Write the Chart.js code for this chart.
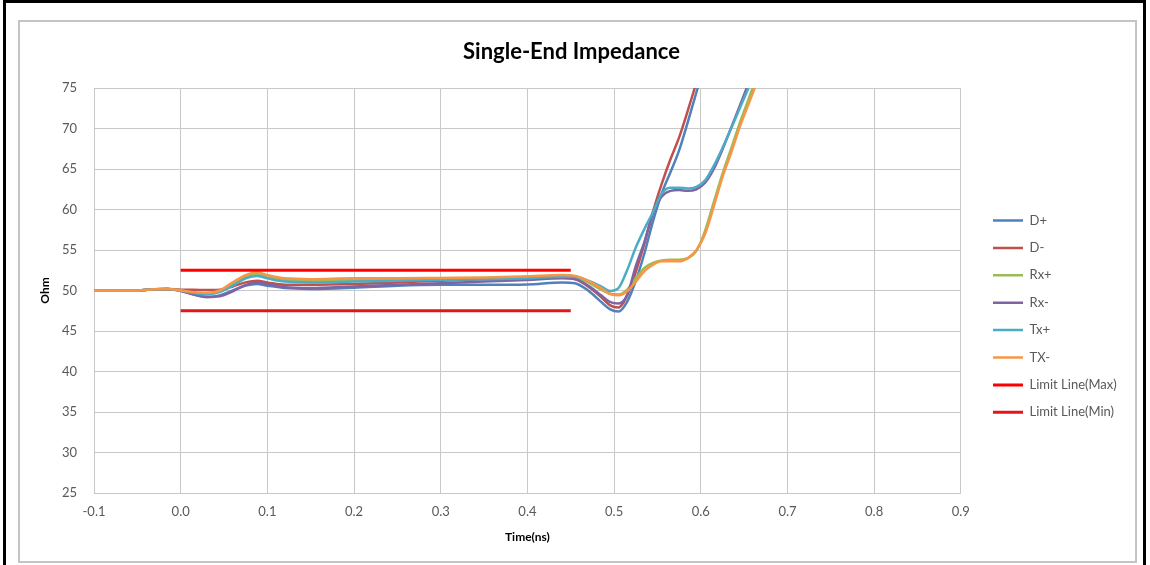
<!DOCTYPE html>
<html>
<head>
<meta charset="utf-8">
<script src="https://cdn.jsdelivr.net/npm/chart.js@4"></script>
<style>
  html, body { margin: 0; padding: 0; background: #fff; }
  body { width: 1150px; height: 565px; position: relative; overflow: hidden; }
  #outer { position: absolute; left: 3px; top: 0; width: 1143px; height: 600px;
           border: 3px solid #000; border-bottom: none; box-sizing: border-box; }
  #frame { position: absolute; left: 18px; top: 20px; width: 1119px; height: 543px;
           border: 2px solid #c4c4c4; box-sizing: border-box; }
  #wrap { position: absolute; left: 20px; top: 22px; width: 1115px; height: 539px; }
</style>
</head>
<body>
<div id="outer"></div>
<div id="frame"></div>
<div id="wrap"><canvas id="chart"></canvas></div>
<script>
'use strict';

// time axis (ns) shared by all traces
const times = [-0.1, -0.05, -0.03, -0.015, 0, 0.015, 0.03, 0.045, 0.06, 0.075,
  0.088, 0.1, 0.12, 0.15, 0.2, 0.25, 0.3, 0.35, 0.4, 0.44,
  0.455, 0.47, 0.485, 0.495, 0.505, 0.515, 0.525, 0.535, 0.545, 0.555,
  0.565, 0.575, 0.585, 0.595, 0.605, 0.615, 0.625, 0.635, 0.645, 0.655, 0.665, 0.68];

const dPlus = [50.0, 50.0, 50.15, 50.2, 50.0, 49.5, 49.2, 49.4, 50.0, 50.6,
  50.8, 50.6, 50.3, 50.2, 50.35, 50.6, 50.7, 50.7, 50.75, 51.0,
  50.9, 50.0, 48.6, 47.7, 47.4, 48.6, 51.2, 54.6, 58.6, 62.0,
  64.6, 67.3, 70.8, 74.5, 78.0, 81.5, 85, 88, 91, 94, 97, 101];
const dMinus = [50.0, 50.0, 50.15, 50.2, 50.1, 50.1, 50.05, 50.1, 50.5, 51.0,
  51.2, 51.0, 50.7, 50.7, 50.8, 51.0, 51.2, 51.4, 51.5, 51.6,
  51.4, 50.5, 49.2, 48.2, 47.9, 49.4, 52.3, 55.8, 59.8, 63.2,
  66.2, 68.9, 72.2, 75.7, 79, 82.5, 86, 89, 92, 95, 98, 102];
const rxPlus = [50.0, 50.0, 50.15, 50.2, 50.0, 49.7, 49.6, 49.9, 50.8, 51.7,
  52.0, 51.7, 51.3, 51.2, 51.3, 51.35, 51.4, 51.5, 51.6, 51.7,
  51.6, 51.0, 50.1, 49.6, 49.5, 50.1, 51.5, 52.8, 53.4, 53.7,
  53.8, 53.8, 54.0, 54.9, 57.4, 60.9, 64.4, 67.5, 70.7, 73.6, 76.5, 81];
const rxMinus = [50.0, 50.0, 50.15, 50.2, 49.95, 49.5, 49.2, 49.3, 49.9, 50.7,
  50.95, 50.8, 50.4, 50.3, 50.5, 50.7, 50.9, 51.1, 51.3, 51.5,
  51.4, 50.6, 49.4, 48.6, 48.4, 49.4, 53.0, 56.0, 59.6, 61.6,
  62.3, 62.4, 62.3, 62.5, 63.3, 65.0, 67.4, 70.1, 72.8, 75.6, 78.6, 83];
const txPlus = [50.0, 50.0, 50.15, 50.2, 50.0, 49.7, 49.5, 49.8, 50.6, 51.5,
  51.8, 51.5, 51.1, 51.0, 51.1, 51.2, 51.3, 51.4, 51.5, 51.7,
  51.7, 51.2, 50.5, 49.95, 50.3, 52.5, 55.3, 57.6, 59.7, 62.0,
  62.7, 62.7, 62.6, 62.8, 63.6, 65.4, 67.6, 70.0, 72.5, 75.0, 77.6, 82];
const txMinus = [50.0, 50.0, 50.15, 50.2, 50.0, 49.8, 49.7, 50.0, 51.0, 51.9,
  52.25, 51.9, 51.5, 51.4, 51.5, 51.5, 51.55, 51.6, 51.75, 51.9,
  51.8, 51.2, 50.3, 49.6, 49.4, 49.9, 51.1, 52.4, 53.2, 53.6,
  53.6, 53.6, 54.0, 55.0, 57.0, 60.4, 64.0, 67.0, 70.2, 73.0, 75.8, 80.5];

const limitTimes = [0, 0.45];
const limitMax = [52.5, 52.5];
const limitMin = [47.5, 47.5];

const TEXT = '#595959';
const GRID = '#c8c8c8';

function pts(xs, ys) {
  return xs.map((x, i) => ({ x, y: ys[i] }));
}

const series = [
  { label: 'D+',  data: pts(times, dPlus),   color: '#4f81bd', w: 2.5 },
  { label: 'D-',  data: pts(times, dMinus),  color: '#c0504d', w: 2.5 },
  { label: 'Rx+', data: pts(times, rxPlus),  color: '#9bbb59', w: 2.5 },
  { label: 'Rx-', data: pts(times, rxMinus), color: '#8064a2', w: 2.5 },
  { label: 'Tx+', data: pts(times, txPlus),  color: '#4bacc6', w: 2.5 },
  { label: 'TX-', data: pts(times, txMinus), color: '#f79646', w: 2.5 },
  { label: 'Limit Line(Max)', data: pts(limitTimes, limitMax), color: '#ff0000', w: 3 },
  { label: 'Limit Line(Min)', data: pts(limitTimes, limitMin), color: '#e3141c', w: 3 },
];

// nudges the right-hand legend to where the original puts it
const legendSpot = {
  id: 'legendSpot',
  afterLayout(chart) {
    const lg = chart.legend;
    if (!lg) return;
    const pad = lg.options.labels.padding;
    const dx = 973 - (lg.left + pad);
    const dy = 192 - (lg.top + pad);
    lg.left += dx; lg.right += dx;
    lg.top += dy; lg.bottom += dy;
  },
};

Chart.defaults.font.family = 'Lato, "Open Sans", sans-serif';
Chart.defaults.color = TEXT;

new Chart(document.getElementById('chart'), {
  type: 'line',
  data: {
    datasets: series.map((s, i) => ({
      label: s.label,
      data: s.data,
      borderColor: s.color,
      backgroundColor: s.color,
      borderWidth: s.w,
      pointRadius: 0,
      fill: false,
      cubicInterpolationMode: 'monotone',
      order: series.length - i,
    })),
  },
  options: {
    responsive: true,
    maintainAspectRatio: false,
    animation: false,
    layout: { padding: { left: 14, top: 14, right: 26, bottom: 13 } },
    plugins: {
      title: {
        display: true,
        text: 'Single-End Impedance',
        color: '#000',
        font: { size: 22, weight: 'bold' },
        padding: { top: 3, bottom: 22.6 },
      },
      legend: {
        position: 'right',
        align: 'start',
        labels: {
          usePointStyle: true,
          pointStyle: 'line',
          pointStyleWidth: 30,
          padding: 14.4,
          color: TEXT,
          font: { size: 13 },
          sort: (a, b) => a.datasetIndex - b.datasetIndex,
        },
      },
      tooltip: { enabled: false },
    },
    scales: {
      x: {
        type: 'linear',
        min: -0.1,
        max: 0.9,
        ticks: { stepSize: 0.1, padding: 11, color: TEXT, font: { size: 13 },
                 callback: v => Number(v).toFixed(1) },
        grid: { color: GRID, drawTicks: false },
        border: { color: GRID },
        title: { display: true, text: 'Time(ns)', color: '#000',
                 font: { size: 12, weight: 'bold' }, padding: { top: 4, bottom: 4 } },
        afterFit: s => { s.height = 55; },
      },
      y: {
        min: 25,
        max: 75,
        ticks: { stepSize: 5, padding: 17, color: TEXT, font: { size: 13 } },
        grid: { color: GRID, drawTicks: false },
        border: { color: GRID },
        title: { display: true, text: 'Ohm', color: '#000',
                 font: { size: 12, weight: 'bold' }, padding: { top: 4, bottom: 4 } },
        afterFit: s => { s.width = 60; },
      },
    },
  },
  plugins: [legendSpot],
});
</script>
</body>
</html>
